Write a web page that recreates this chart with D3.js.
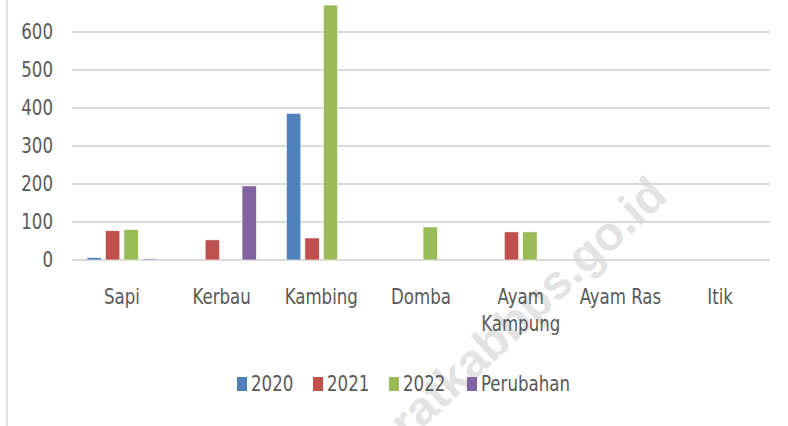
<!DOCTYPE html>
<head>
  <title>Ternak</title>
  <script src="https://d3js.org/d3.v7.min.js"></script>
  <style>
  body {margin: 0; background: white;}
  text {font-family: "DejaVu Sans Condensed", "Liberation Sans", sans-serif; fill: #595959; font-size: 21px;}
  .grid line {stroke: #d9d9d9; stroke-width: 2px;}
  #mark {fill: #e3e3e3; font-family: "Liberation Sans", sans-serif; font-weight: bold; font-size: 48px;}
  </style>
</head>
<body>
  <svg id="chart" width="788" height="426"></svg>
  <script>
  var categories = ["Sapi", "Kerbau", "Kambing", "Domba", "Ayam Kampung", "Ayam Ras", "Itik"];
  var seriesNames = ["2020", "2021", "2022", "Perubahan"];
  var values2020 = [6, 0, 386, 0, 0, 0, 0];
  var values2021 = [77, 53, 58, 0, 74, 0, 0];
  var values2022 = [80, 0, 671, 87, 74, 0, 0];
  var valuesPerubahan = [3, 195, 0, 0, 0, 0, 0];
  var yTicks = [0, 100, 200, 300, 400, 500, 600];
  var colors = ["#4f81bd", "#c0504d", "#9bbb59", "#8064a2"];

  var series = [values2020, values2021, values2022, valuesPerubahan];
  var svg = d3.select("#chart");
  var squeeze = "scale(0.88,1)";

  // left frame line
  svg.append("line")
    .attr("x1", 7).attr("x2", 7).attr("y1", 0).attr("y2", 426)
    .attr("stroke", "#d9d9d9").attr("stroke-width", 1.5);

  // watermark
  svg.append("text")
    .attr("id", "mark")
    .attr("transform", "translate(408,442) rotate(-43)")
    .text("ratkabbps.go.id");

  var x = d3.scaleBand().domain(categories).range([72, 770]);
  var inner = d3.scaleBand().domain(seriesNames).range([15, x.bandwidth() - 15]).paddingInner(0.22);
  var y = d3.scaleLinear().domain([0, 600]).range([260, 32]);

  // gridlines
  svg.append("g").attr("class", "grid")
    .selectAll("line").data(yTicks).enter().append("line")
    .attr("x1", 72).attr("x2", 770)
    .attr("y1", function(d) { return y(d); })
    .attr("y2", function(d) { return y(d); });

  // y labels
  svg.append("g").selectAll("g").data(yTicks).enter().append("g")
    .attr("transform", function(d) { return "translate(53," + y(d) + ")"; })
    .append("text")
    .attr("transform", squeeze)
    .attr("dy", "0.35em")
    .attr("text-anchor", "end")
    .text(function(d) { return d; });

  // bars
  series.forEach(function(vals, i) {
    var rows = vals.map(function(v, j) { return {cat: categories[j], v: v}; })
      .filter(function(d) { return d.v > 0; });
    svg.append("g").selectAll("rect").data(rows).enter().append("rect")
      .attr("x", function(d) { return x(d.cat) + inner(seriesNames[i]); })
      .attr("width", inner.bandwidth())
      .attr("y", function(d) { return Math.max(5, y(d.v)); })
      .attr("height", function(d) { return y(0) - Math.max(5, y(d.v)); })
      .attr("fill", colors[i])
      .attr("stroke", "white")
      .attr("stroke-width", 0.6);
  });

  // x labels
  var xl = svg.append("g").selectAll("g").data(categories).enter().append("g")
    .attr("transform", function(d) { return "translate(" + (x(d) + x.bandwidth() / 2) + ",304)"; })
    .append("text")
    .attr("transform", squeeze)
    .attr("text-anchor", "middle");
  xl.each(function(d) {
    var t = d3.select(this);
    var lines = d == "Ayam Kampung" ? ["Ayam", "Kampung"] : [d];
    lines.forEach(function(s, k) {
      t.append("tspan").attr("x", 0).attr("dy", k ? 27 : 0).text(s);
    });
  });

  // legend
  var legendX = [237, 313, 389, 467];
  var legend = svg.append("g").selectAll("g").data(seriesNames).enter().append("g")
    .attr("transform", function(d, i) { return "translate(" + legendX[i] + ",377)"; });
  legend.append("rect")
    .attr("width", 10).attr("height", 14)
    .attr("fill", function(d, i) { return colors[i]; });
  legend.append("g").attr("transform", "translate(14,7)")
    .append("text")
    .attr("transform", squeeze)
    .attr("dy", "0.35em")
    .text(function(d) { return d; });
  </script>
</body>
